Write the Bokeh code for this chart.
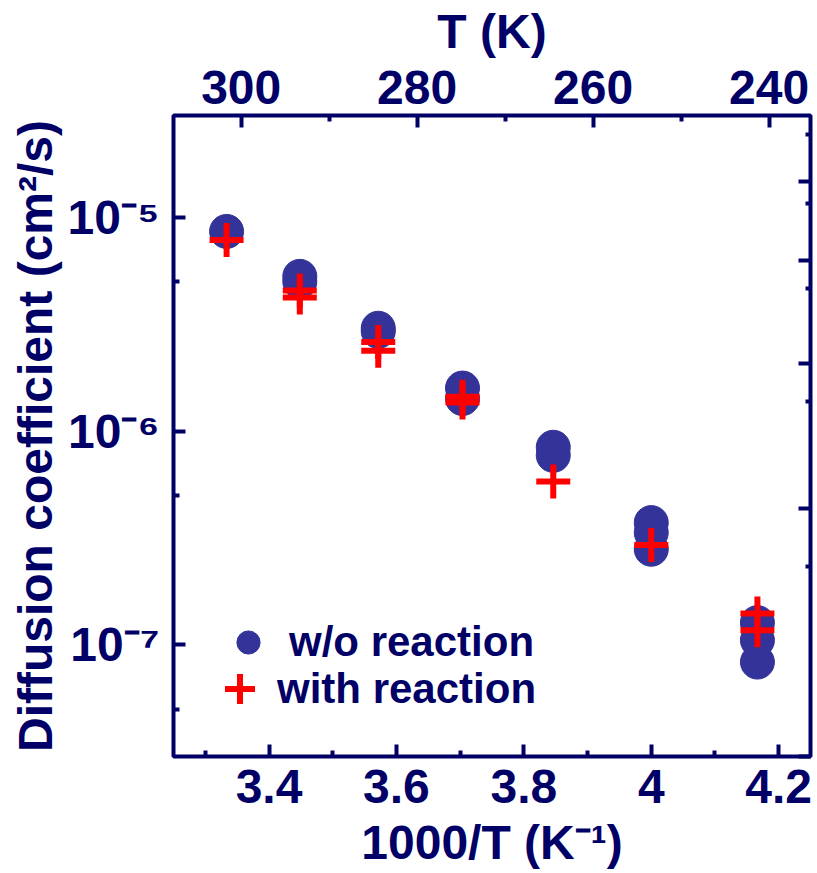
from bokeh.plotting import figure
from bokeh.models import Range1d, LinearAxis, FixedTicker, Legend, LegendItem, ColumnDataSource
from bokeh.embed import file_html
from bokeh.resources import INLINE

NAVY = "#000066"
ROYAL = "#333399"
RED = "#ff0000"
FONT = "Liberation Sans"

# ---- data ----
wo_T = [300, 290, 290, 280, 280, 270, 270, 260, 260, 250, 250, 250, 240, 240, 240]
wo_D = [8.6e-6, 5.3e-6, 5.0e-6, 3.03e-6, 2.93e-6, 1.59e-6, 1.42e-6,
        8.4e-7, 7.7e-7, 3.73e-7, 3.35e-7, 2.80e-7, 1.27e-7, 1.05e-7, 8.3e-8]
with_T = [300, 290, 290, 280, 280, 270, 270, 260, 250, 240, 240]
with_D = [7.85e-6, 4.55e-6, 4.22e-6, 2.61e-6, 2.38e-6, 1.45e-6, 1.36e-6,
          5.81e-7, 2.93e-7, 1.40e-7, 1.17e-7]

x_ticks = [3.4, 3.6, 3.8, 4.0, 4.2]
x_tick_labels = ["3.4", "3.6", "3.8", "4", "4.2"]
x_minor = [3.3, 3.5, 3.7, 3.9, 4.1]
T_ticks = [300, 280, 260, 240]
T_tick_labels = ["300", "280", "260", "240"]
T_minor = [290, 270, 250]
y_ticks = [1e-7, 1e-6, 1e-5]
y_tick_labels = ["10\u207b\u2077", "10\u207b\u2076", "10\u207b\u2075"]
y_minor = [5e-8, 5e-7, 5e-6]
r_ticks = [0, 1, 2, 3, 4, 5]
r_minor = [0.699, 1.699, 2.699, 3.699, 4.699, 5.699]

x_lo, x_hi = 3.25, 4.25
y_lo, y_hi = 3e-8, 3e-5

src_wo = ColumnDataSource(dict(x=[1000.0 / t for t in wo_T], D=wo_D))
src_with = ColumnDataSource(dict(x=[1000.0 / t for t in with_T], D=with_D))

p = figure(width=817, height=873, x_range=Range1d(x_lo, x_hi), y_range=Range1d(y_lo, y_hi),
           y_axis_type="log", output_backend="svg", toolbar_location=None,
           min_border_left=173, min_border_right=7, min_border_top=115, min_border_bottom=117)
p.xgrid.visible = False
p.ygrid.visible = False
p.background_fill_color = "white"
p.border_fill_color = "white"
p.outline_line_color = NAVY
p.outline_line_width = 4

p.extra_x_ranges = {"T": Range1d(1000.0 / x_lo, 1000.0 / x_hi)}
p.extra_y_ranges = {"r": Range1d(-0.316, 6.006)}

FS = "48px"


def style(ax):
    ax.axis_line_color = None
    ax.major_tick_line_color = NAVY
    ax.major_tick_line_width = 4
    ax.major_tick_in = 12
    ax.major_tick_out = 0
    ax.minor_tick_line_color = NAVY
    ax.minor_tick_line_width = 4
    ax.minor_tick_in = 6
    ax.minor_tick_out = 0
    ax.major_label_text_font = FONT
    ax.major_label_text_font_size = FS
    ax.major_label_text_font_style = "bold"
    ax.major_label_text_color = NAVY
    ax.axis_label_text_font = FONT
    ax.axis_label_text_font_size = FS
    ax.axis_label_text_font_style = "bold"
    ax.axis_label_text_color = NAVY


bx = p.xaxis[0]
bx.ticker = FixedTicker(ticks=x_ticks, minor_ticks=x_minor)
bx.major_label_overrides = dict(zip(x_ticks, x_tick_labels))
bx.axis_label = "1000/T (K\u207b\u00b9)"
style(bx)
bx.major_label_standoff = 13
bx.axis_label_standoff = 10

ly = p.yaxis[0]
ly.ticker = FixedTicker(ticks=y_ticks, minor_ticks=y_minor)
ly.major_label_overrides = dict(zip(y_ticks, y_tick_labels))
ly.axis_label = "Diffusion coefficient (cm\u00b2/s)"
style(ly)
ly.major_label_standoff = 14
ly.axis_label_standoff = 3

top = LinearAxis(x_range_name="T", ticker=FixedTicker(ticks=T_ticks, minor_ticks=T_minor),
                 axis_label="T (K)")
top.major_label_overrides = dict(zip(T_ticks, T_tick_labels))
style(top)
top.major_label_standoff = 12
top.axis_label_standoff = 10
p.add_layout(top, "above")

# right-hand frame ticks (no labels): long and short ticks as two label-free axes
for pos, length in ((r_ticks, 12), (r_minor, 5)):
    ax = LinearAxis(y_range_name="r", ticker=FixedTicker(ticks=[], minor_ticks=pos))
    style(ax)
    ax.minor_tick_in = length
    ax.major_label_standoff = 0
    p.add_layout(ax, "right")

r1 = p.scatter(x="x", y="D", source=src_wo, marker="circle", size=34,
               fill_color=ROYAL, line_color=ROYAL, line_width=1)
r2 = p.scatter(x="x", y="D", source=src_with, marker="cross", size=34,
               line_color=RED, line_width=6)


def legend(item, renderer, loc, gw, standoff):
    lg = Legend(items=[LegendItem(label=item, renderers=[renderer])], location=loc,
                glyph_width=gw, glyph_height=gw, label_standoff=standoff, padding=0,
                spacing=0, margin=0, border_line_color=None, background_fill_alpha=0,
                label_text_font=FONT, label_text_font_size="42px",
                label_text_font_style="bold", label_text_color=NAVY)
    p.add_layout(lg)


legend("w/o reaction", r1, (46, 85), 58, 12)
legend("with reaction", r2, (29, 30), 75, 0)

open("out.html", "w").write(file_html(p, INLINE))
